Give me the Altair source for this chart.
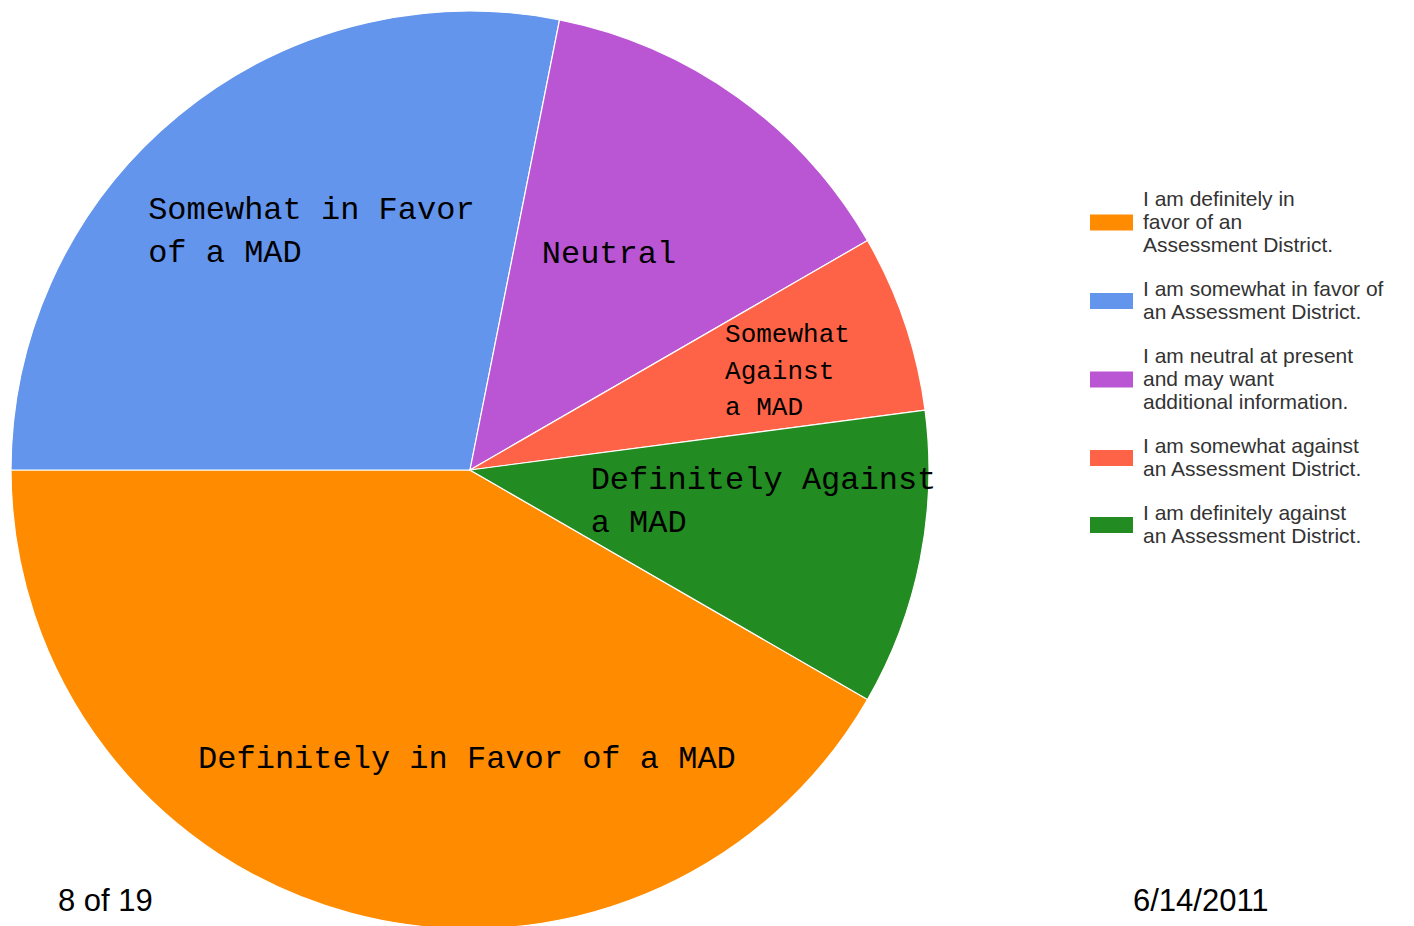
import math
import altair as alt
import pandas as pd

legend_labels = [
    "I am definitely in|favor of an|Assessment District.",
    "I am somewhat in favor of|an Assessment District.",
    "I am neutral at present|and may want|additional information.",
    "I am somewhat against|an Assessment District.",
    "I am definitely against|an Assessment District.",
]
slice_labels = [
    "Definitely in Favor of a MAD",
    "Somewhat in Favor|of a MAD",
    "Neutral",
    "Somewhat|Against|a MAD",
    "Definitely Against|a MAD",
]
counts = [40, 27, 13, 6, 10]
colors = ["#FF8C00", "#6495ED", "#BA55D3", "#FF6347", "#228B22"]
page_label = ["8 of 19"]
date_label = ["6/14/2011"]

df = pd.DataFrame({
    "idx": list(range(len(counts))),
    "response": legend_labels,
    "label": slice_labels,
    "count": counts,
})

TOTAL = sum(counts)
START = 2 * math.pi / 3
theta_scale = alt.Scale(domain=[0, TOTAL], range=[START, START + 2 * math.pi])
MONO = "Courier New, Liberation Mono, monospace"

# legend swatch: 43 x 16 px rectangle, shifted down to the middle of its label block
LEG_FS = 21
LEG_LH = LEG_FS + 2
UNIT = 21.5  # sqrt(symbolSize) / 2


def swatch(n_lines):
    off = (n_lines - 1) * LEG_LH / 2 / UNIT
    h = 8 / UNIT
    return f"M-1,{off - h:.3f}L1,{off - h:.3f}L1,{off + h:.3f}L-1,{off + h:.3f}Z"


swatch_paths = [swatch(lbl.count("|") + 1) for lbl in legend_labels]

legend = alt.Legend(
    title=None,
    orient="none",
    legendX=1082,
    legendY=168,
    symbolSize=1849,
    symbolStrokeWidth=0,
    symbolOpacity=1,
    labelFont="Liberation Sans",
    labelFontSize=LEG_FS,
    labelColor="#333333",
    labelLimit=500,
    labelOffset=10,
    labelExpr="split(datum.label, '|')",
    rowPadding=12,
    padding=0,
)

color = alt.Color(
    "response:N",
    sort=legend_labels,
    scale=alt.Scale(domain=legend_labels, range=colors),
    legend=legend,
)
shape = alt.Shape(
    "response:N",
    sort=legend_labels,
    scale=alt.Scale(domain=legend_labels, range=swatch_paths),
    legend=legend,
)

base = alt.Chart(df)

pie = base.mark_arc(radius=459, stroke="white", strokeWidth=1.2).encode(
    theta=alt.Theta("count:Q", stack=True, scale=theta_scale),
    order=alt.Order("idx:Q"),
    color=color,
)

legend_keys = base.mark_point(filled=True, opacity=0).encode(color=color, shape=shape)

# per-slice label styles: (radius, dx, dy, align, fontSize, lineHeight)
label_styles = [
    (290, 72, 18, "center", 32, 43),
    (397, -70, 56, "left", 32, 43),
    (209, -50, -37, "left", 32, 43),
    (282, -12, -37, "left", 26, 36.5),
    (122, 1, -5, "left", 32, 43),
]

text_layers = []
for i, (r, dx, dy, align, fs, lh) in enumerate(label_styles):
    t = (
        base.transform_window(cum="sum(count)", sort=[{"field": "idx"}], frame=[None, 0])
        .transform_calculate(mid="datum.cum - datum.count / 2")
        .transform_filter(alt.datum.idx == i)
        .mark_text(
            radius=r, dx=dx, dy=dy, align=align, baseline="alphabetic",
            font=MONO, fontSize=fs, lineHeight=lh, lineBreak="|", color="#000000",
        )
        .encode(theta=alt.Theta("mid:Q", scale=theta_scale), text="label:N")
    )
    text_layers.append(t)

footer_left = alt.Chart(pd.DataFrame({"t": page_label})).mark_text(
    align="left", baseline="alphabetic", font="Liberation Sans", fontSize=31, color="#000000"
).encode(x=alt.value(50), y=alt.value(901), text="t:N")

footer_right = alt.Chart(pd.DataFrame({"t": date_label})).mark_text(
    align="left", baseline="alphabetic", font="Liberation Sans", fontSize=31, color="#000000"
).encode(x=alt.value(1125), y=alt.value(901), text="t:N")

chart = alt.layer(pie, legend_keys, *text_layers, footer_left, footer_right).properties(
    width=924, height=920, padding=0, background="white"
).configure_view(stroke=None)

chart.save("out.html", embed_options={"renderer": "svg", "actions": False})
